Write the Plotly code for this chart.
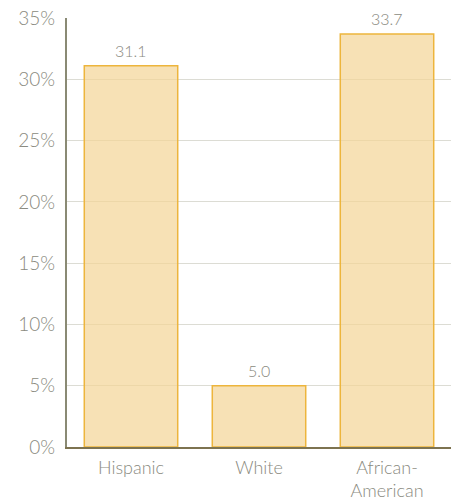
import plotly.graph_objects as go

categories = ["Hispanic", "White", "African-<br>American"]
values = [31.1, 5.0, 33.7]
labels = ["31.1", "5.0", "33.7"]

fig = go.Figure()
fig.add_trace(go.Bar(
    x=categories, y=values,
    marker=dict(color="rgba(244,212,150,0.7)", line=dict(color="#EDB53C", width=1.5)),
))
for c, v, t in zip(categories, values, labels):
    fig.add_annotation(x=c, y=v, text=t, showarrow=False, yanchor="bottom", yshift=4,
                       font=dict(family="Lato", size=16, color="#8a8a80", weight=300))
fig.update_layout(
    width=456, height=501,
    margin=dict(l=67, r=5, t=18, b=54, autoexpand=False),
    plot_bgcolor="white", paper_bgcolor="white",
    bargap=0.27, showlegend=False,
    font=dict(family="Lato", color="#8a8a80", weight=300),
    xaxis=dict(showline=True, linecolor="#7d7350", linewidth=2, tickfont=dict(size=18),
               ticks="", showgrid=False, ticklabelstandoff=3, automargin=False),
    yaxis=dict(range=[0, 35], dtick=5, ticksuffix="%", showline=True, linecolor="#8a8a74",
               linewidth=2, gridcolor="#dcdcd4", gridwidth=1, tickfont=dict(size=19),
               ticks="", zeroline=False, layer="above traces", ticklabelstandoff=6,
               automargin=False),
)
fig.write_html("out.html")
